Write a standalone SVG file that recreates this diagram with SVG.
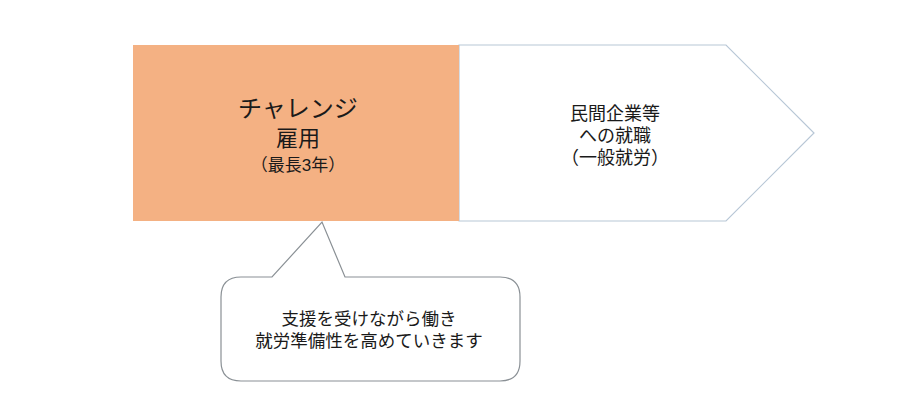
<svg xmlns="http://www.w3.org/2000/svg" width="900" height="409" viewBox="0 0 900 409">
<style>
text{font-family:"Liberation Sans","Noto Sans CJK JP","Noto Sans CJK SC",sans-serif;fill:#1a1a1a;text-anchor:middle}
.g{font-size:18px}
.c{font-size:17.5px}
</style>
<rect width="900" height="409" fill="#fff"/>
<g id="goal">
<polygon points="459,45 726,45 814,133 726,221 459,221" fill="#fff" stroke="#b8c7d6" stroke-width="1.2"/>
<text class="g" x="615" y="120">民間企業等</text>
<text class="g" x="615" y="142">への就職</text>
<text class="g" x="615" y="164">（一般就労）</text>
</g>
<g id="challenge">
<rect x="133" y="45" width="326" height="176" fill="#f4b183"/>
<text x="298" y="117" font-size="24">チャレンジ</text>
<text x="298" y="146" font-size="22">雇用</text>
<text x="298" y="171" font-size="17">（最長3年）</text>
</g>
<g id="callout">
<path d="M241,277 L272,277 L322,222 L345,277 L500,277 Q520,277 520,297 L520,361 Q520,381 500,381 L241,381 Q221,381 221,361 L221,297 Q221,277 241,277 Z" fill="#fff" stroke="#8a9095" stroke-width="1.2"/>
<text class="c" x="369" y="325">支援を受けながら働き</text>
<text class="c" x="369" y="347">就労準備性を高めていきます</text>
</g>
<g id="connectors"></g>
</svg>
